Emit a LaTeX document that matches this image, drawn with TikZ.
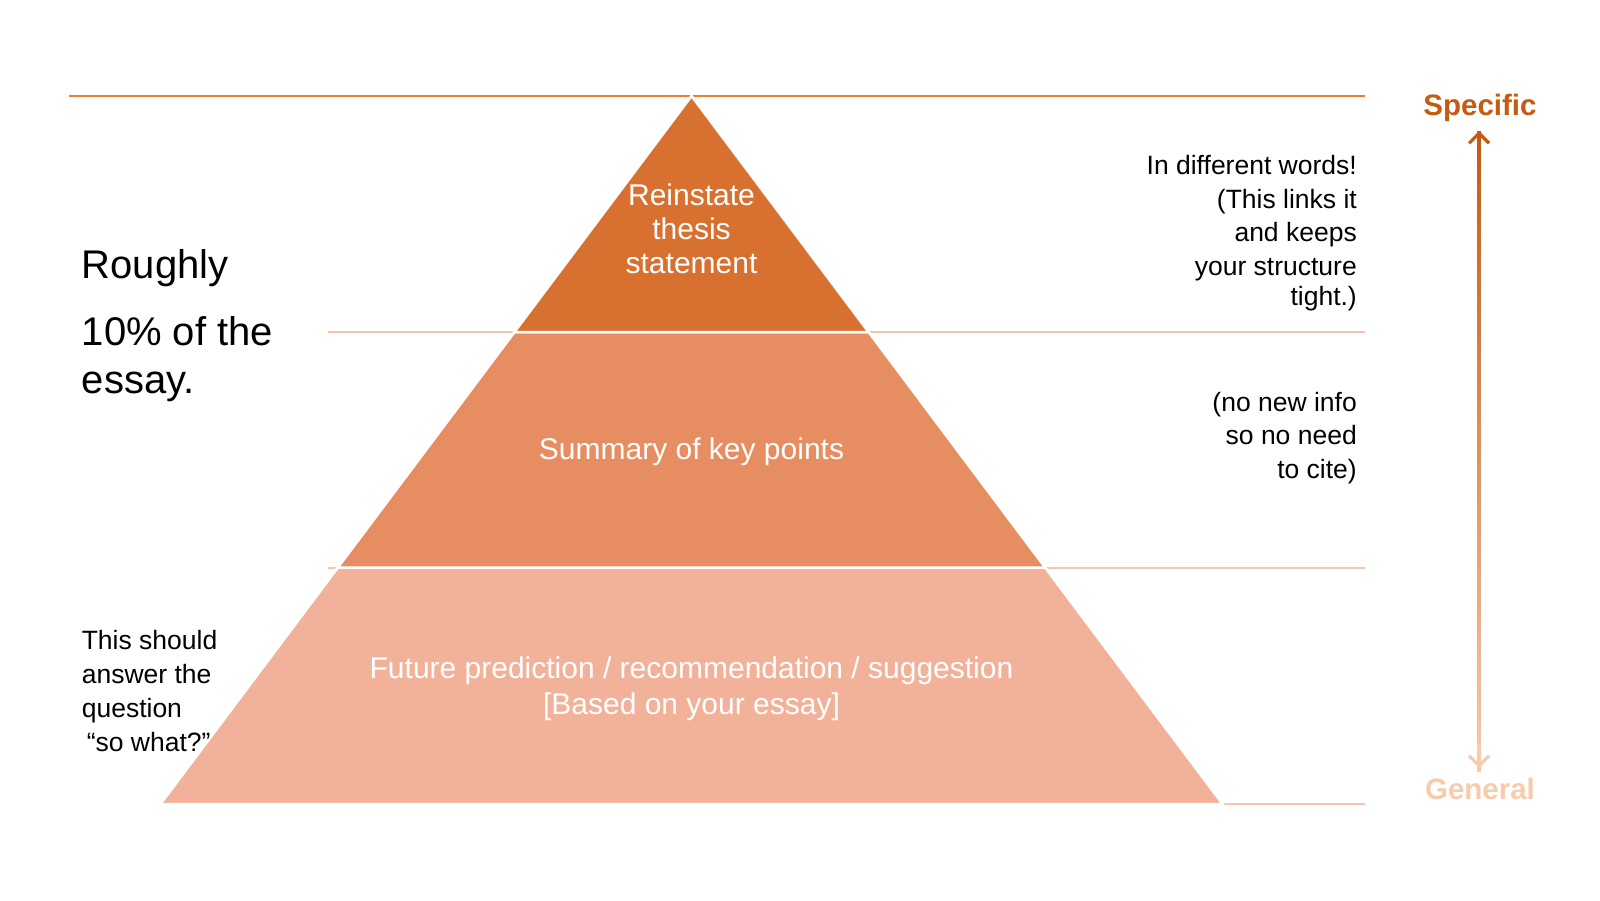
\documentclass[tikz,border=0pt]{standalone}
\usepackage{fontspec}
\setmainfont{Liberation Sans}
\usetikzlibrary{calc,arrows.meta}
\definecolor{tipband}{HTML}{D87030}
\definecolor{midband}{HTML}{E68E62}
\definecolor{baseband}{HTML}{F2B29A}
\definecolor{toprule}{HTML}{ED7D31}
\definecolor{softrule}{HTML}{F4C5B0}
\definecolor{specific}{HTML}{C55A11}
\definecolor{general}{HTML}{F8CBAD}
\tikzset{
 band/.style={draw=white,line width=2.5pt},
 bandtext/.style={text=white,align=center,inner sep=0pt,font=\fontsize{30}{34}\selectfont},
 sidetext/.style={inner sep=0pt,font=\fontsize{26.5}{33.7}\selectfont},
 bigtext/.style={inner sep=0pt,align=left,font=\fontsize{40}{48}\selectfont},
 endlabel/.style={inner sep=0pt,font=\fontsize{29.5}{34}\selectfont\bfseries},
}
\begin{document}
\begin{tikzpicture}[x=1pt,y=-1pt]
 \useasboundingbox (0,0) rectangle (1600,900);
 \draw[toprule,line width=2pt](69,96)--(1365,96);
 \draw[softrule,line width=2pt](328,332)--(1365,332);
 \draw[softrule,line width=2pt](328,567.5)--(1365,567.5);
 \draw[softrule,line width=2pt](328,804)--(1365,804);
 \filldraw[band,fill=baseband](337.9,567.5)--(1045.1,567.5)--(1222.5,804)--(160.5,804)--cycle;
 \filldraw[band,fill=midband](514.5,332)--(868.5,332)--(1045.1,567.5)--(337.9,567.5)--cycle;
 \filldraw[band,fill=tipband](691.5,96)--(868.5,332)--(514.5,332)--cycle;
 \node[bandtext] (thesis) at (691.5,229) {Reinstate\\thesis\\statement};
 \node[bandtext] (keypts) at (691.5,452) {Summary of key points};
 \node[bandtext,font=\fontsize{30}{36}\selectfont] (future) at (691.5,689) {Future prediction / recommendation / suggestion\\{}[Based on your essay]};
 \node[bigtext,anchor=west] (roughly) at (81.6,268) {Roughly};
 \node[bigtext,anchor=west] (tenpct) at (81.6,359.5) {10\% of the\\essay.};
 \node[sidetext,align=left,anchor=west] (sowhat) at (81.6,691) {This should\\answer the\\question\\\hspace*{5pt}“so what?”};
 \node[sidetext,align=right,anchor=east] (words) at (1357,233) {In different words!\\(This links it\\and keeps\\your structure\\[-4pt]tight.)};
 \node[sidetext,align=right,anchor=east] (noinfo) at (1357,438) {(no new info\\so no need\\to cite)};
 \node[endlabel,text=specific] (spec) at (1480,108) {Specific};
 \node[endlabel,text=general] (gen) at (1480,789) {General};
 \coordinate (hi) at (1479,131);
 \coordinate (lo) at (1479,768);
 \foreach \i [evaluate=\i as \p using 100-2*\i, evaluate=\i as \a using \i/50, evaluate=\i as \b using (\i+1.3)/50] in {0,...,49}
  \draw[line width=3.2pt,specific!\p!general]($(hi)!\a!(lo)$)--($(hi)!\b!(lo)$);
 \draw[line width=3.2pt,specific,-{Straight Barb[length=10pt,width=20pt]}]($(hi)!0.04!(lo)$)--(hi);
 \draw[line width=3.2pt,general,-{Straight Barb[length=10pt,width=20pt]}]($(lo)!0.04!(hi)$)--(lo);
\end{tikzpicture}
\end{document}
